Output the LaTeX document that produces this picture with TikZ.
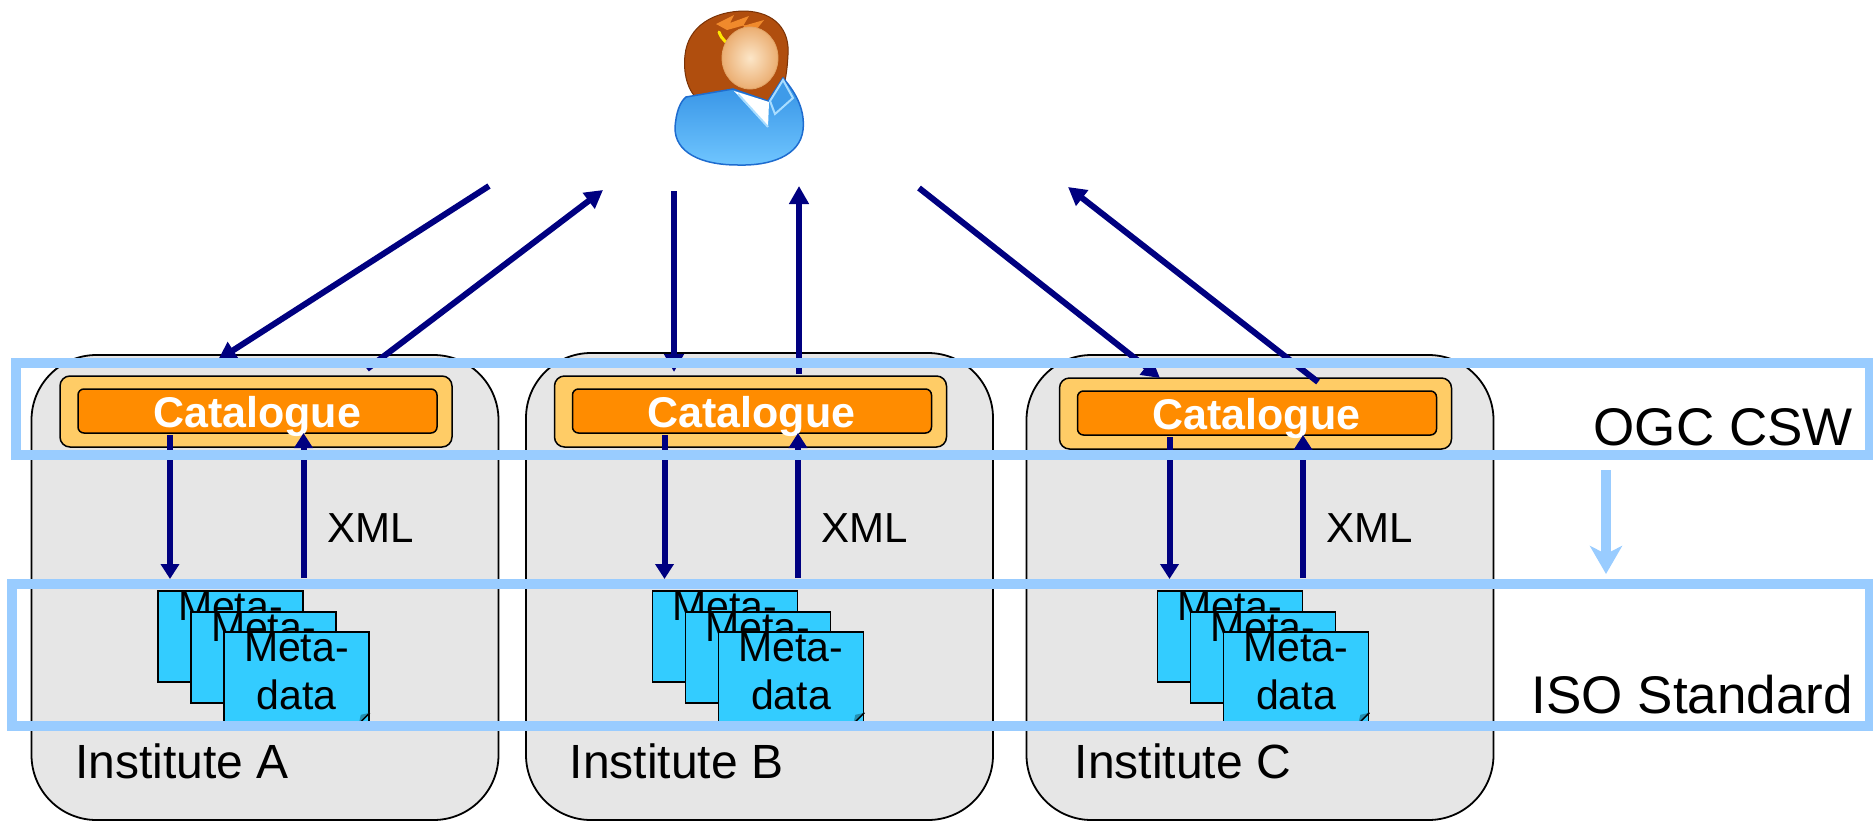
\documentclass[tikz,border=0pt]{standalone}
\usepackage{fontspec}
\setmainfont{Liberation Sans}
\usetikzlibrary{arrows.meta}
\definecolor{navyline}{HTML}{000080}
\definecolor{instgray}{HTML}{E6E6E6}
\definecolor{catlight}{HTML}{FFCC66}
\definecolor{catorange}{HTML}{FF8C00}
\definecolor{docblue}{HTML}{33CCFF}
\definecolor{bandblue}{HTML}{99CCFF}
\definecolor{hairbrown}{HTML}{B04E0E}
\definecolor{hairdark}{HTML}{7A3206}
\definecolor{hairlight}{HTML}{F08A2C}
\definecolor{skinlight}{HTML}{FCE6C8}
\definecolor{skindark}{HTML}{EBAE72}
\definecolor{suittop}{HTML}{3290E4}
\definecolor{suitbottom}{HTML}{70C6FF}
\definecolor{suitedge}{HTML}{1E6CCF}
\begin{document}
\begin{tikzpicture}[x=1pt,y=-1pt,
  inst/.style={draw=black, line width=1.8pt, fill=instgray, rounded corners=65pt, inner sep=0pt},
  catouter/.style={draw=black, line width=1.5pt, fill=catlight, rounded corners=10pt,
    minimum width=392pt, minimum height=71pt, inner sep=0pt},
  catinner/.style={draw=black, line width=1.5pt, fill=catorange, rounded corners=6pt,
    minimum width=359pt, minimum height=44pt, inner sep=0pt},
  cattext/.style={text=white, font=\fontsize{43}{50}\selectfont\bfseries, inner sep=0pt, anchor=base},
  docbox/.style={draw=black, line width=1.8pt, fill=docblue, minimum width=145pt,
    minimum height=91pt, inner sep=0pt, anchor=north west},
  doctext/.style={font=\fontsize{41}{48}\selectfont, inner sep=0pt, anchor=base},
  flow/.style={draw=navyline, line width=6pt, -{Triangle[length=18pt,width=19pt]}},
  localflow/.style={draw=navyline, line width=6pt, -{Triangle[length=15pt,width=18pt]}},
  band/.style={draw=bandblue, line width=10pt, inner sep=0pt},
  caption/.style={font=\fontsize{48}{56}\selectfont, inner sep=0pt, anchor=base west},
  tag/.style={font=\fontsize{42}{50}\selectfont, inner sep=0pt, anchor=base west},
  layer/.style={font=\fontsize{53}{60}\selectfont, inner sep=0pt, anchor=base east}]
\useasboundingbox (0,0) rectangle (1873,822);

% ---------------- institutes ----------------
\foreach \n/\ix/\iy/\ih/\cx/\cy in {A/265/587.5/465/256/411.5, B/759.5/586.5/467/750.5/411.5, C/1260/587.5/465/1255.5/413.5}{
  \node[inst, minimum width=467pt, minimum height=\ih pt] (inst\n) at (\ix,\iy) {};
  \node[catouter] (catout\n) at (\cx,\cy) {};
  \node[catinner] (catin\n) at ({\cx+1.5},{\cy-0.5}) {};
  \node[cattext] (cattxt\n) at ({\cx+1},{\cy+15.5}) {Catalogue};
  % stacked metadata records
  \foreach \k/\ox/\oy in {1/0/0, 2/33/21, 3/66/41}{
    \node[docbox] (doc\n\k) at ({\cx-99+\ox},{590+\oy}) {};
    \node[doctext] (docm\n\k) at ([yshift=-30pt]doc\n\k.north) {Meta-};
    \node[doctext] (docd\n\k) at ([yshift=-78pt]doc\n\k.north) {data};
  }
  % folded corner of the front record
  \fill[docblue!70!black] ([xshift=-11pt]doc\n3.south east) -- ([yshift=11pt]doc\n3.south east)
     -- ([xshift=-9pt,yshift=9pt]doc\n3.south east) -- cycle;
  \draw[line width=1.5pt] ([xshift=-11pt]doc\n3.south east) -- ([yshift=11pt]doc\n3.south east);
  % request and XML answer inside the institute
  \coordinate (qs\n) at ({\cx-86},{\cy+23.5});
  \coordinate (qe\n) at ({\cx-86},579);
  \coordinate (rs\n) at ({\cx+47.5},578);
  \coordinate (re\n) at ({\cx+47.5},{\cy+21.5});
  \draw[localflow] (qs\n) -- (qe\n);
  \draw[localflow] (rs\n) -- (re\n);
  \node[tag] (xml\n) at ({\cx+71},542) {XML};
  \node[caption] (name\n) at ({\cx-181},778) {Institute \n};
}

% ---------------- user ----------------
\coordinate (user) at (740,90);
% hair
\fill[hairbrown, draw=hairdark, line width=1pt]
  (700,101) .. controls (687,92) and (683,72) .. (685,55)
  .. controls (688,26) and (714,11) .. (745,11)
  .. controls (775,12) and (790,30) .. (788,55)
  .. controls (787,75) and (784,90) .. (778,101) -- cycle;
\fill[hairlight] (716,24) -- (734,15) -- (730,23) -- (749,16) -- (743,26) -- (764,20)
  -- (753,34) -- (741,31) -- (745,25) -- (727,30) -- cycle;
\draw[yellow!90!orange, line width=3pt, line cap=round] (719,32) .. controls (722,40) and (727,44) .. (734,46);
% body
\draw[suitedge, line width=1.5pt, top color=suittop, bottom color=suitbottom]
  (686,97) -- (733,89) -- (768,101) -- (783,78)
  .. controls (798,95) and (805,112) .. (803,130)
  .. controls (800,156) and (770,166) .. (738,165)
  .. controls (700,165) and (675,152) .. (675,128)
  .. controls (676,112) and (680,102) .. (686,97) -- cycle;
% shirt and lapels
\fill[white] (734,91) -- (769,102) -- (768,127) -- cycle;
\draw[suitbottom!60!white, line width=2pt] (738,94) -- (768,127);
\draw[suitbottom!60!white, line width=2pt, fill=suittop!80!suitbottom]
  (770,101) -- (783,80) -- (793,98) -- (775,114) -- cycle;
% face
\draw[skindark!80!brown, line width=0.8pt, inner color=skinlight, outer color=skindark]
  (750,58) ellipse [x radius=28, y radius=31];

% ---------------- requests between user and catalogues ----------------
\coordinate (uA1) at (489,186);  \coordinate (cA1) at (218,360);
\coordinate (cA2) at (367,369);  \coordinate (uA2) at (603,190);
\coordinate (uB1) at (674,191);  \coordinate (cB1) at (674,372);
\coordinate (cB2) at (799,374);  \coordinate (uB2) at (799,186);
\coordinate (uC1) at (919,188);  \coordinate (cC1) at (1160,378);
\coordinate (cC2) at (1318,382); \coordinate (uC2) at (1068,187);
\draw[flow] (uA1) -- (cA1);
\draw[flow] (cA2) -- (uA2);
\draw[flow] (uB1) -- (cB1);
\draw[flow] (cB2) -- (uB2);
\draw[flow] (uC1) -- (cC1);
\draw[flow] (cC2) -- (uC2);

% ---------------- standard layers ----------------
\node[band, minimum width=1854pt, minimum height=92pt] (ogcband) at (943,409) {};
\node[band, minimum width=1858pt, minimum height=142pt] (isoband) at (941,655) {};
\node[layer] (ogclabel) at (1853,445) {OGC CSW};
\node[layer] (isolabel) at (1853,713) {ISO Standard};
\coordinate (mapx) at (1606,0);
\draw[draw=bandblue, line width=10pt, -{Stealth[length=28pt,width=32pt,inset=8pt]},
  shorten <=10pt, shorten >=5pt] (ogcband.south -| mapx) -- (isoband.north -| mapx);
\end{tikzpicture}
\end{document}
